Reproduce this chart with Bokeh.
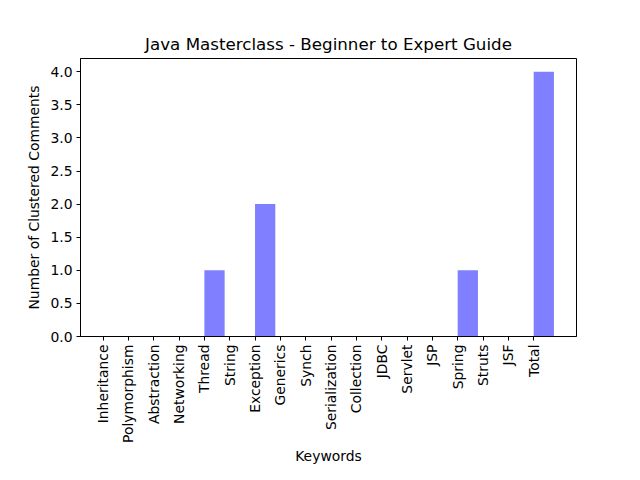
from bokeh.plotting import figure
from bokeh.models import FixedTicker, PrintfTickFormatter, Range1d, ColumnDataSource
from bokeh.embed import file_html
from bokeh.resources import INLINE
import math

keywords = ["Inheritance", "Polymorphism", "Abstraction", "Networking", "Thread", "String",
            "Exception", "Generics", "Synch", "Serialization", "Collection", "JDBC",
            "Servlet", "JSP", "Spring", "Struts", "JSF", "Total"]
counts = [0, 0, 0, 0, 1, 0, 2, 0, 0, 0, 0, 0, 0, 0, 1, 0, 0, 4]
y_ticks = [0.0, 0.5, 1.0, 1.5, 2.0, 2.5, 3.0, 3.5, 4.0]

bar_width = 0.8
idx = list(range(len(keywords)))
centers = [i + bar_width / 2 for i in idx]

FONT = "DejaVu Sans"

p = figure(width=640, height=480, output_backend="svg", toolbar_location=None,
           x_range=Range1d(-0.89, len(keywords) - 1 + bar_width + 0.89),
           y_range=Range1d(0, 4.2),
           min_border_left=80, min_border_right=64, min_border_top=58, min_border_bottom=144)

src = ColumnDataSource(dict(x=centers, top=counts))
p.vbar(x="x", top="top", width=bar_width, bottom=0, source=src,
       fill_color="blue", fill_alpha=0.5, line_color=None)

p.title.text = "Java Masterclass - Beginner to Expert Guide"
p.title.align = "center"
p.title.text_font = FONT
p.title.text_font_size = "16.7px"
p.title.text_font_style = "normal"
p.title.text_color = "black"

p.xgrid.visible = False
p.ygrid.visible = False
p.outline_line_color = "black"
p.outline_line_width = 1
p.outline_line_alpha = 1
p.background_fill_color = "white"
p.border_fill_color = "white"

xa = p.xaxis[0]
xa.ticker = FixedTicker(ticks=idx)
xa.major_label_overrides = {i: k for i, k in zip(idx, keywords)}
xa.major_label_orientation = math.pi / 2
xa.axis_label = "Keywords"
xa.axis_label_standoff = 2

ya = p.yaxis[0]
ya.ticker = FixedTicker(ticks=y_ticks)
ya.formatter = PrintfTickFormatter(format="%.1f")
ya.axis_label = "Number of Clustered Comments"

for ax in (xa, ya):
    ax.major_tick_in = 0
    ax.major_tick_out = 4
    ax.minor_tick_line_color = None
    ax.axis_line_color = "black"
    ax.major_tick_line_color = "black"
    ax.major_label_text_font = FONT
    ax.major_label_text_font_size = "13.9px"
    ax.major_label_text_color = "black"
    ax.axis_label_text_font = FONT
    ax.axis_label_text_font_size = "13.9px"
    ax.axis_label_text_font_style = "normal"
    ax.axis_label_text_color = "black"
    ax.major_label_standoff = 4

open("out.html", "w").write(file_html(p, INLINE))
